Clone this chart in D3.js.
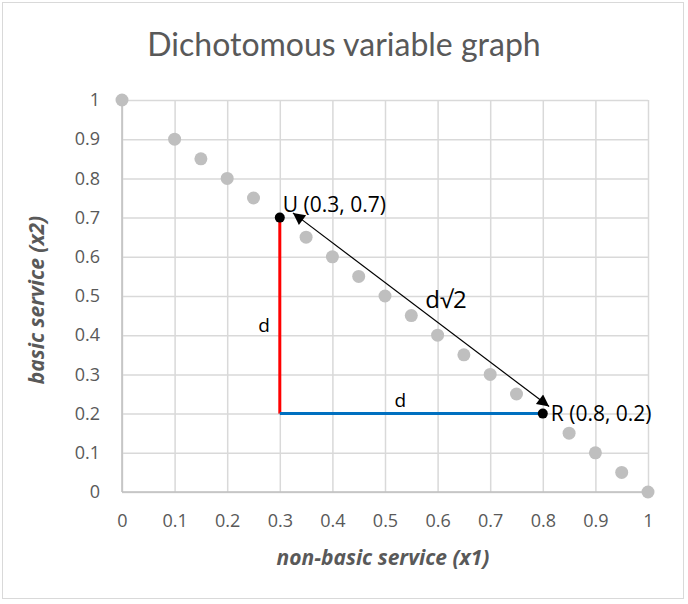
<!DOCTYPE html>
<html>
<head>
  <style>
    body { margin: 0; background: #fff; }
  </style>
  <title>Dichotomous variable graph</title>
</head>
<body>
  <script src="https://cdn.jsdelivr.net/npm/d3@7"></script>
  <script>
    // data
    var dotX = [0, 0.1, 0.15, 0.2, 0.25, 0.35, 0.4, 0.45, 0.5, 0.55, 0.6, 0.65, 0.7, 0.75, 0.85, 0.9, 0.95, 1];
    var dotY = [1, 0.9, 0.85, 0.8, 0.75, 0.65, 0.6, 0.55, 0.5, 0.45, 0.4, 0.35, 0.3, 0.25, 0.15, 0.1, 0.05, 0];
    var pointNames = ["U", "R"];
    var pointX = [0.3, 0.8];
    var pointY = [0.7, 0.2];
    var tickValues = [0, 0.1, 0.2, 0.3, 0.4, 0.5, 0.6, 0.7, 0.8, 0.9, 1];

    var width = 688, height = 604;
    var plotLeft = 122, plotRight = 648, plotTop = 100, plotBottom = 492;
    var textColor = "#595959";
    var font = "'Open Sans', sans-serif";

    var x = d3.scaleLinear().domain([0, 1]).range([plotLeft, plotRight]);
    var y = d3.scaleLinear().domain([0, 1]).range([plotBottom, plotTop]);

    var svg = d3.select("body").append("svg")
      .attr("width", width)
      .attr("height", height);

    // chart border
    svg.append("rect")
      .attr("x", 2.5).attr("y", 2.5)
      .attr("width", 681).attr("height", 596)
      .attr("fill", "#fff")
      .attr("stroke", "#d9d9d9");

    // title
    svg.append("text")
      .attr("x", 344).attr("y", 56)
      .attr("text-anchor", "middle")
      .attr("font-family", "Lato, sans-serif")
      .attr("font-size", 32)
      .attr("fill", textColor)
      .text("Dichotomous variable graph");

    // gridlines
    svg.append("g")
      .attr("transform", "translate(0," + plotBottom + ")")
      .call(d3.axisBottom(x).tickValues(tickValues).tickSize(-(plotBottom - plotTop)).tickFormat(""))
      .call(function(g) { g.select(".domain").remove(); })
      .selectAll("line").attr("stroke", "#d9d9d9").attr("stroke-width", 1.5);

    svg.append("g")
      .attr("transform", "translate(" + plotLeft + ",0)")
      .call(d3.axisLeft(y).tickValues(tickValues).tickSize(-(plotRight - plotLeft)).tickFormat(""))
      .call(function(g) { g.select(".domain").remove(); })
      .selectAll("line").attr("stroke", "#d9d9d9").attr("stroke-width", 1.5);

    // axis lines
    svg.append("line")
      .attr("x1", x(0)).attr("x2", x(1)).attr("y1", y(0)).attr("y2", y(0))
      .attr("stroke", "#bfbfbf").attr("stroke-width", 1.5);
    svg.append("line")
      .attr("x1", x(0)).attr("x2", x(0)).attr("y1", y(0)).attr("y2", y(1))
      .attr("stroke", "#bfbfbf").attr("stroke-width", 1.5);

    // tick labels
    var fmt = function(d) { return d3.format("")(d); };
    svg.append("g")
      .attr("transform", "translate(0," + (plotBottom + 19) + ")")
      .call(d3.axisBottom(x).tickValues(tickValues).tickSize(0).tickFormat(fmt))
      .call(function(g) { g.select(".domain").remove(); })
      .selectAll("text")
      .attr("font-family", font)
      .attr("font-size", 18)
      .attr("fill", textColor);

    svg.append("g")
      .attr("transform", "translate(" + (plotLeft - 19) + ",0)")
      .call(d3.axisLeft(y).tickValues(tickValues).tickSize(0).tickFormat(fmt))
      .call(function(g) { g.select(".domain").remove(); })
      .selectAll("text")
      .attr("font-family", font)
      .attr("font-size", 18)
      .attr("fill", textColor);

    // axis titles
    svg.append("text")
      .attr("x", 383).attr("y", 565)
      .attr("text-anchor", "middle")
      .attr("font-family", font)
      .attr("font-size", 21)
      .attr("font-weight", "bold")
      .attr("font-style", "italic")
      .attr("fill", textColor)
      .text("non-basic service (x1)");

    svg.append("text")
      .attr("transform", "translate(44," + 300 + ") rotate(-90)")
      .attr("text-anchor", "middle")
      .attr("font-family", font)
      .attr("font-size", 21)
      .attr("font-weight", "bold")
      .attr("font-style", "italic")
      .attr("fill", textColor)
      .text("basic service (x2)");

    // grey dots
    svg.append("g").selectAll("circle")
      .data(dotX)
      .enter().append("circle")
      .attr("cx", function(d) { return x(d); })
      .attr("cy", function(d, i) { return y(dotY[i]); })
      .attr("r", 6.5)
      .attr("fill", "#bfbfbf");

    // red vertical and blue horizontal distance
    svg.append("line")
      .attr("x1", x(pointX[0])).attr("x2", x(pointX[0]))
      .attr("y1", y(pointY[0])).attr("y2", y(pointY[1]))
      .attr("stroke", "#ff0000").attr("stroke-width", 3);
    svg.append("line")
      .attr("x1", x(pointX[0])).attr("x2", x(pointX[1]))
      .attr("y1", y(pointY[1])).attr("y2", y(pointY[1]))
      .attr("stroke", "#0070c0").attr("stroke-width", 3);

    // double arrow
    var defs = svg.append("defs");
    defs.append("marker")
      .attr("id", "head")
      .attr("viewBox", "0 0 10 10")
      .attr("refX", 10).attr("refY", 5)
      .attr("markerWidth", 16).attr("markerHeight", 12)
      .attr("markerUnits", "userSpaceOnUse")
      .attr("orient", "auto-start-reverse")
      .append("path").attr("d", "M0,0 L10,5 L0,10 Z").attr("fill", "#000");

    svg.append("line")
      .attr("x1", x(0.325)).attr("y1", y(0.712))
      .attr("x2", x(0.812)).attr("y2", y(0.218))
      .attr("stroke", "#000").attr("stroke-width", 1.2)
      .attr("marker-start", "url(#head)")
      .attr("marker-end", "url(#head)");

    // U and R points
    svg.append("g").selectAll("circle")
      .data(pointX)
      .enter().append("circle")
      .attr("cx", function(d) { return x(d); })
      .attr("cy", function(d, i) { return y(pointY[i]); })
      .attr("r", 5)
      .attr("fill", "#000");

    // labels
    svg.append("g").selectAll("text")
      .data(pointX)
      .enter().append("text")
      .attr("x", function(d, i) { return x(d) + (i === 0 ? 3 : 8); })
      .attr("y", function(d, i) { return y(pointY[i]) + (i === 0 ? -6 : 7); })
      .attr("font-family", font)
      .attr("font-size", 21)
      .attr("fill", "#000")
      .text(function(d, i) { return pointNames[i] + " (" + d + ", " + pointY[i] + ")"; });

    svg.append("text")
      .attr("x", x(0.3) - 10).attr("y", y(0.408))
      .attr("text-anchor", "end")
      .attr("font-family", font).attr("font-size", 19)
      .text("d");
    svg.append("text")
      .attr("x", x(0.529)).attr("y", y(0.217))
      .attr("text-anchor", "middle")
      .attr("font-family", font).attr("font-size", 19)
      .text("d");
    svg.append("text")
      .attr("x", x(0.616)).attr("y", y(0.47))
      .attr("text-anchor", "middle")
      .attr("font-family", font).attr("font-size", 24)
      .text("d\u221A2");
  </script>
</body>
</html>
